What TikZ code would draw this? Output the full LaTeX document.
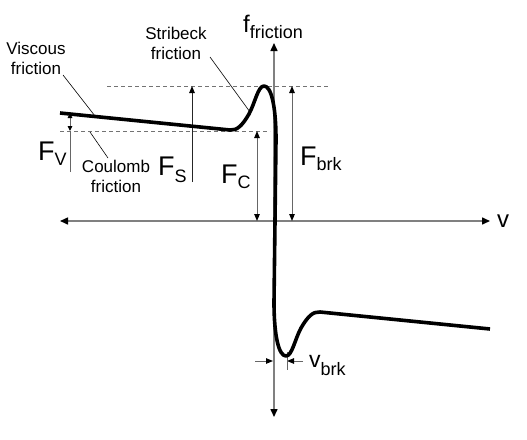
\documentclass[tikz,border=0pt]{standalone}
\usepackage{fontspec}
\setmainfont{Liberation Sans}
\usetikzlibrary{arrows.meta}

\newcommand{\quant}[5]{{\fontsize{#1}{#1}\selectfont #2}\raisebox{#4}{\fontsize{#5}{#5}\selectfont #3}}

\begin{document}
\begin{tikzpicture}[x=1pt, y=-1pt, >={Triangle[length=7pt,width=5.5pt,black]}]
    \tikzstyle{every node}=[inner sep=0pt, text=black]
    \tikzstyle{axis}=[<->, black!50, line width=1.5pt, >={Triangle[length=8pt,width=7pt,black]}]
    \tikzstyle{guide}=[black!55, line width=0.9pt, dash pattern=on 4pt off 3pt]
    \tikzstyle{dim}=[black!60, line width=1pt]
    \tikzstyle{leader}=[black, line width=0.6pt]
    \tikzstyle{curve}=[black, line width=3.6pt, line join=round]
    \tikzstyle{note}=[font=\fontsize{17}{20}\selectfont, align=center, anchor=north]

    \useasboundingbox (0,0) rectangle (527,439);

    \coordinate (vtop) at (274,43);
    \coordinate (vbot) at (274,417);
    \coordinate (hleft) at (60,221);
    \coordinate (hright) at (490,221);
    \coordinate (dsA) at (107,86);
    \coordinate (dsB) at (328,86);
    \coordinate (dcA) at (60,131);
    \coordinate (dcB) at (270,131);
    \coordinate (fvtop) at (70,113);
    \coordinate (fvmid) at (70,131);
    \coordinate (fvbot) at (70,172);
    \coordinate (fsbot) at (192,182);
    \coordinate (fstop) at (192,86);
    \coordinate (fcbot) at (257,221);
    \coordinate (fctop) at (257,131);
    \coordinate (fbbot) at (292,221);
    \coordinate (fbtop) at (292,86);
    \coordinate (brkL0) at (255,361);
    \coordinate (brkL1) at (273,361);
    \coordinate (brkR0) at (303,361);
    \coordinate (brkR1) at (287,361);
    \coordinate (tickT) at (287,352);
    \coordinate (tickB) at (287,370);
    \coordinate (viscA) at (63,75);
    \coordinate (viscB) at (95,116);
    \coordinate (stribA) at (210,57);
    \coordinate (stribB) at (250,112);
    \coordinate (coulA) at (108,158);
    \coordinate (coulB) at (90,132);

    \draw[guide] (dsA) -- (dsB);
    \draw[guide] (dcA) -- (dcB);
    \draw[axis] (vbot) -- (vtop);
    \draw[axis] (hleft) -- (hright);

    \draw[dim] (fvbot) -- (fvmid);
    \draw[dim, <->, >={Triangle[length=5pt,width=4.5pt,black]}] (fvmid) -- (fvtop);
    \draw[dim, ->, black!85] (fsbot) -- (fstop);
    \draw[dim, <->] (fcbot) -- (fctop);
    \draw[dim, <->] (fbbot) -- (fbtop);
    \draw[dim, ->] (brkL0) -- (brkL1);
    \draw[dim, ->] (brkR0) -- (brkR1);
    \draw[dim] (tickT) -- (tickB);

    \draw[curve] (60,113) -- (230,130)
        .. controls (237,130.5) and (242,126) .. (249,114)
        .. controls (255,103) and (258,86) .. (264,86)
        .. controls (271,86) and (276,105) .. (276,140)
        -- (274,302)
        .. controls (274,337) and (279,356) .. (286,356)
        .. controls (292,356) and (295,339) .. (301,328)
        .. controls (308,316) and (313,311.5) .. (320,312)
        -- (490,329);

    \draw[leader] (viscA) -- (viscB);
    \draw[leader] (stribA) -- (stribB);
    \draw[leader] (coulA) -- (coulB);

    \node[note] (visc) at (36,42) {Viscous\\friction};
    \node[note] (strib) at (176,27) {Stribeck\\friction};
    \node[note] (coul) at (116,160) {Coulomb\\friction};

    \node[anchor=base west] (flab) at (243,32) {\quant{24}{f}{friction}{-6pt}{18}};
    \node[anchor=base west] (vlab) at (497,227) {\fontsize{24}{24}\selectfont v};
    \node[anchor=base west] (fv) at (38,160) {\quant{27}{F}{V}{-5pt}{18}};
    \node[anchor=base west] (fs) at (158,175) {\quant{27}{F}{S}{-7pt}{18}};
    \node[anchor=base west] (fc) at (221,183) {\quant{27}{F}{C}{-5pt}{18}};
    \node[anchor=base west] (fbrk) at (300,165) {\quant{27}{F}{brk}{-5pt}{18}};
    \node[anchor=base west] (vbrk) at (309,367) {\quant{23}{v}{brk}{-8pt}{18}};
\end{tikzpicture}
\end{document}
